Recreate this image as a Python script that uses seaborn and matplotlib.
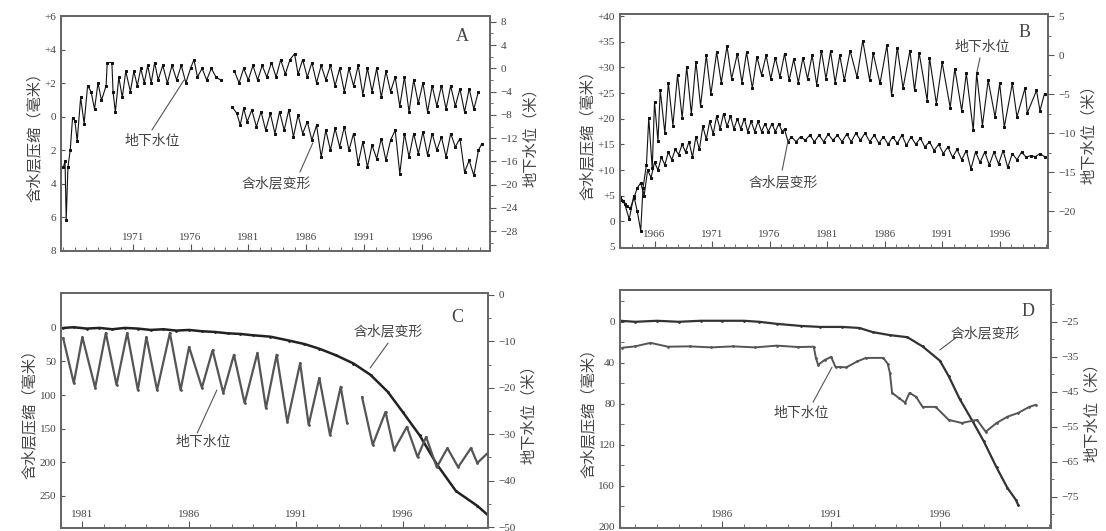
import matplotlib
matplotlib.use("Agg")
import matplotlib.pyplot as plt
import seaborn as sns
from matplotlib.ticker import FixedLocator, MultipleLocator

# ---------------- data ----------------
# Panel A: groundwater level (m, right axis), two segments
a_gw_years_1 = [1965.0, 1965.15, 1965.25, 1965.4, 1965.6, 1965.8, 1966.0, 1966.2,
                1966.5, 1966.8, 1967.1, 1967.4, 1967.7, 1968.0, 1968.3, 1968.7,
                1968.8, 1969.2, 1969.3, 1969.5, 1969.8, 1970.1, 1970.4, 1970.8,
                1971.1, 1971.4, 1971.7, 1972.0, 1972.3, 1972.6, 1972.9, 1973.2,
                1973.6, 1974.0, 1974.4, 1974.8, 1975.2, 1975.6, 1976.0, 1976.3,
                1976.6, 1977.0, 1977.4, 1977.8, 1978.2, 1978.6]
a_gw_vals_1 = [-17, -16, -26, -17, -14, -8.5, -9, -12.5,
               -5, -9.5, -3, -4, -7, -2.5, -5.5, -3,
               1, 1, -4, -7.5, -1.5, -5, -0.5, -4,
               -0.5, -3, 0, -2.5, 0.5, -2.5, 1, -2,
               0.5, -2.5, 0.5, -2, 0.5, -2.5, 0, 1.5,
               -1.5, 0, -2, 0, -1.5, -2]
a_gw_years_2 = [1979.8, 1980.2, 1980.6, 1981.0, 1981.4, 1981.8, 1982.2, 1982.6,
                1983.0, 1983.4, 1983.8, 1984.2, 1984.6, 1985.0, 1985.3, 1985.7,
                1986.1, 1986.5, 1986.9, 1987.3, 1987.7, 1988.1, 1988.5, 1988.9,
                1989.3, 1989.7, 1990.1, 1990.5, 1990.9, 1991.3, 1991.7, 1992.1,
                1992.5, 1992.9, 1993.3, 1993.7, 1994.1, 1994.5, 1994.9, 1995.3,
                1995.7, 1996.1, 1996.5, 1996.9, 1997.3, 1997.7, 1998.1, 1998.5,
                1998.9, 1999.3, 1999.7, 2000.1, 2000.5, 2000.9]
a_gw_vals_2 = [-0.5, -2.5, 0, -2, 0.5, -2, 0.5, -1.5,
               1, -1.5, 1.5, -1, 1.5, 2.5, -1, 1.5,
               -1.5, 1, -2.5, 0.5, -2, 0.5, -3, 0,
               -4, 0, -3, 0.5, -4.5, 0, -4, 0,
               -5, -0.5, -4, -1.5, -6.5, -1.5, -7.5, -2,
               -6, -2.5, -7.5, -3, -6.5, -3, -7, -3,
               -6.5, -3.5, -7.5, -3.5, -7, -4]
# Panel A: aquifer deformation (mm, left axis)
a_def_years = [1979.6, 1980.0, 1980.3, 1980.6, 1980.9, 1981.3, 1981.7, 1982.1,
               1982.5, 1982.9, 1983.3, 1983.7, 1984.1, 1984.5, 1984.9, 1985.3,
               1985.7, 1986.1, 1986.5, 1986.9, 1987.3, 1987.7, 1988.1, 1988.5,
               1988.9, 1989.3, 1989.7, 1990.1, 1990.5, 1990.9, 1991.3, 1991.7,
               1992.1, 1992.5, 1992.9, 1993.3, 1993.7, 1994.1, 1994.5, 1994.9,
               1995.3, 1995.7, 1996.1, 1996.5, 1996.9, 1997.3, 1997.7, 1998.1,
               1998.5, 1998.9, 1999.3, 1999.7, 2000.1, 2000.5, 2000.9, 2001.2]
a_def_vals = [0.6, 0.2, -0.5, 0.5, -0.3, 0.4, -0.6, 0.3,
              -0.8, 0.2, -1.0, 0.3, -0.8, 0.4, -1.2, 0.1,
              -1.0, -0.3, -1.4, -0.5, -2.4, -0.8, -2.0, -0.7,
              -1.8, -0.6, -2.0, -1.0, -2.8, -1.5, -3.0, -1.7,
              -2.5, -1.3, -2.6, -1.4, -0.8, -3.4, -1.0, -2.4,
              -1.0, -2.2, -0.9, -2.3, -1.0, -2.0, -1.2, -2.4,
              -1.0, -1.8, -1.3, -3.3, -2.6, -3.5, -2.0, -1.6]

# Panel B: groundwater level (m, right axis)
b_gw_years = [1963.0, 1963.4, 1963.8, 1964.2, 1964.5, 1964.8, 1965.0, 1965.3,
              1965.5, 1965.8, 1966.0, 1966.3, 1966.5, 1966.9, 1967.2, 1967.6,
              1968.0, 1968.4, 1968.8, 1969.2, 1969.6, 1970.0, 1970.5, 1970.9,
              1971.4, 1971.8, 1972.3, 1972.7, 1973.2, 1973.6, 1974.0, 1974.5,
              1974.9, 1975.3, 1975.7, 1976.1, 1976.5, 1976.9, 1977.3, 1977.7,
              1978.1, 1978.5, 1978.9, 1979.3, 1979.7, 1980.1, 1980.5, 1980.9,
              1981.3, 1981.7, 1982.1, 1982.5, 1983.0, 1983.6, 1984.1, 1984.7,
              1985.0, 1985.6, 1986.2, 1986.6, 1987.1, 1987.6, 1988.2, 1988.6,
              1989.0, 1989.7, 1989.9, 1990.5, 1991.0, 1991.7, 1992.1, 1992.7,
              1993.1, 1993.7, 1994.0, 1994.5, 1995.0, 1995.6, 1996.0, 1996.4,
              1997.1, 1997.5, 1998.2, 1998.4, 1999.2, 1999.5, 1999.9]
b_gw_vals = [-18.5, -19, -21, -18, -20, -22.5, -17, -14,
             -8, -14.5, -6, -11, -4.5, -10, -3.5, -9,
             -2.5, -8, -1.5, -7.5, -0.8, -6.5, 0, -5,
             0.4, -3.5, 1.2, -3.0, 0.2, -3.5, 0.4, -4.2,
             -0.2, -2.5, 0, -3, -0.3, -2.8, 0.2, -3.2,
             -0.5, -3.5, -0.3, -3, 0, -3.8, 0.6, -3,
             0.5, -3.5, 0, -3.2, 0.6, -2.8, 1.9, -3.2,
             0.3, -3.6, 1.3, -5.1, 1.0, -4.2, 0.6, -4.5,
             0.3, -5.8, -0.3, -6.2, -0.9, -6.7, -1.7, -7.1,
             -2.3, -9.6, -2.3, -9.0, -3.2, -7.9, -3.6, -9.2,
             -3.6, -7.9, -4.2, -7.4, -4.5, -7.1, -4.9]
# Panel B: aquifer deformation (mm, left axis)
b_def_years = [1963.0, 1963.3, 1963.6, 1963.9, 1964.2, 1964.5, 1964.8, 1965.1,
               1965.4, 1965.7, 1966.0, 1966.3, 1966.6, 1966.9, 1967.2, 1967.5,
               1967.8, 1968.1, 1968.4, 1968.7, 1969.0, 1969.3, 1969.6, 1969.9,
               1970.2, 1970.5, 1970.8, 1971.1, 1971.4, 1971.7, 1972.0, 1972.3,
               1972.6, 1972.9, 1973.2, 1973.5, 1973.8, 1974.1, 1974.4, 1974.7,
               1975.0, 1975.3, 1975.6, 1975.9, 1976.2, 1976.5, 1976.8, 1977.1,
               1977.3, 1977.6, 1977.9, 1978.3, 1978.7, 1979.1, 1979.5, 1979.9,
               1980.3, 1980.7, 1981.1, 1981.5, 1981.9, 1982.3, 1982.7, 1983.1,
               1983.5, 1983.9, 1984.3, 1984.7, 1985.1, 1985.5, 1985.9, 1986.3,
               1986.7, 1987.1, 1987.5, 1987.9, 1988.3, 1988.7, 1989.1, 1989.5,
               1989.9, 1990.3, 1990.7, 1991.1, 1991.5, 1991.9, 1992.3, 1992.7,
               1993.1, 1993.5, 1993.9, 1994.3, 1994.7, 1995.1, 1995.5, 1995.9,
               1996.3, 1996.7, 1997.1, 1997.5, 1997.9, 1998.3, 1998.7, 1999.1,
               1999.5, 1999.9]
b_def_vals = [4.7, 4.0, 3.0, 2.5, 4.5, 6.5, 7.5, 5.0,
              10, 8.5, 11.5, 10, 12.5, 11, 13.5, 12,
              14, 13, 15, 13.5, 15.5, 12.5, 16.5, 14,
              18.5, 16, 19.5, 17, 20.5, 18, 21, 18.5,
              20.5, 18, 20, 18, 20, 17.5, 19.5, 17.5,
              19.5, 17.5, 19, 17.5, 19, 17.5, 19, 17.5,
              18, 15.5, 16.5, 15.5, 16.5, 15.8, 16.8, 15.5,
              16.8, 15.5, 17, 15.8, 16.8, 15.5, 17, 15.5,
              17.2, 15.8, 17.2, 15.5, 16.8, 15.2, 16.5, 15,
              16.5, 15.2, 16.8, 14.8, 16.5, 15, 16.2, 14.5,
              15.5, 13.8, 15, 13.2, 14.5, 12.5, 14, 12,
              13.8, 10.2, 13.5, 11.5, 13.5, 11, 13.5, 11.2,
              13.8, 10.5, 13.2, 12, 13.5, 12.5, 12.8, 12.6,
              13.2, 12.6]

# Panel C: aquifer compression (mm, left axis, downward)
c_def_years = [1980.1, 1980.6, 1981.2, 1981.8, 1982.4, 1983.0, 1983.6, 1984.2,
               1984.8, 1985.4, 1986.0, 1986.6, 1987.2, 1987.8, 1988.4, 1989.0,
               1989.8, 1990.7, 1991.4, 1992.1, 1992.9, 1993.7, 1994.5, 1995.3,
               1996.0, 1996.8, 1997.6, 1998.5, 1999.5, 2000.0]
c_def_vals = [0, -1, 1, 0, 2, 0, 1, 3,
              2, 4, 3, 5, 6, 8, 9, 11,
              13, 19, 24, 31, 41, 53, 70, 95,
              125, 160, 203, 243, 265, 279]
# Panel C: groundwater level (m, right axis), two segments
c_gw_years_1 = [1980.1, 1980.6, 1981.0, 1981.6, 1982.1, 1982.6, 1983.1, 1983.6,
                1984.0, 1984.5, 1985.1, 1985.6, 1986.0, 1986.6, 1987.1, 1987.6,
                1988.1, 1988.6, 1989.2, 1989.6, 1990.1, 1990.6, 1991.2, 1991.6,
                1992.1, 1992.6, 1993.1, 1993.4]
c_gw_vals_1 = [-9.3, -19.0, -9.1, -20.0, -8.2, -19.4, -8.2, -20.5,
               -9.1, -20.5, -8.2, -20.5, -11.2, -20.0, -11.9, -21.1,
               -12.9, -23.3, -12.5, -24.4, -12.9, -27.4, -14.7, -28.0,
               -17.9, -30.2, -19.8, -27.6]
c_gw_years_2 = [1994.1, 1994.6, 1995.2, 1995.6, 1996.2, 1996.7, 1997.1, 1997.6,
                1998.1, 1998.6, 1999.2, 1999.5, 2000.0]
c_gw_vals_2 = [-22.0, -32.3, -25.2, -33.4, -28.4, -34.9, -30.6, -37.1,
               -33.0, -37.1, -33.0, -36.2, -34.0]

# Panel D: aquifer compression (mm, left axis, downward)
d_def_years = [1981.3, 1982.0, 1983.0, 1984.0, 1985.0, 1986.0, 1987.0, 1987.7,
               1988.5, 1989.6, 1990.5, 1991.5, 1992.3, 1992.9, 1993.7, 1994.5,
               1995.2, 1996.0, 1996.4, 1996.9, 1997.5, 1998.0, 1998.6, 1999.1,
               1999.5, 1999.6]
d_def_vals = [-1, 0, -1, 0, -1, -1, -1, 0,
              2, 4, 5, 5, 6, 10, 13, 15,
              24, 38, 53, 75, 97, 116, 142, 162,
              174, 179]
# Panel D: groundwater level (m, right axis)
d_gw_years = [1981.4, 1982.0, 1982.7, 1983.5, 1984.5, 1985.5, 1986.5, 1987.5,
              1988.5, 1989.5, 1990.2, 1990.3, 1990.4, 1990.7, 1991.0, 1991.2,
              1991.4, 1991.7, 1992.2, 1992.6, 1993.4, 1993.6, 1993.7, 1993.8,
              1994.1, 1994.4, 1994.6, 1994.9, 1995.2, 1995.8, 1996.4, 1997.0,
              1997.7, 1998.1, 1998.6, 1999.1, 1999.6, 2000.1, 2000.4]
d_gw_vals = [-32.4, -32.0, -31.0, -32.1, -32.0, -32.3, -32.0, -32.3,
             -31.8, -32.2, -32.1, -35.3, -37.3, -35.9, -35.0, -37.9,
             -37.9, -38.0, -36.3, -35.3, -35.3, -37.0, -39.6, -45.3,
             -46.7, -48.1, -45.3, -46.4, -49.3, -49.3, -53.0, -53.9,
             -53.0, -56.4, -53.9, -52.1, -51.0, -49.3, -48.7]

left_label = "含水层压缩（毫米）"
right_label = "地下水位（米）"
gw_name = "地下水位"
def_name = "含水层变形"

# ---------------- style ----------------
sns.set_style("ticks")
plt.rcParams["font.family"] = ["Liberation Serif", "Noto Sans CJK SC"]
plt.rcParams["axes.edgecolor"] = "#666666"
plt.rcParams["axes.linewidth"] = 1.3
TXT = "#444444"

fig = plt.figure(figsize=(11.06, 5.31), dpi=100)
W, H = 1106, 531


def make_axes(x0, x1, ytop, ybot):
    ax = fig.add_axes([x0 / W, 1 - ybot / H, (x1 - x0) / W, (ybot - ytop) / H])
    return ax, ax.twinx()


def setup(ax, ax2, xlim, majors, lticks, llabels, llim, rticks, rlim, rminor, lminor=None):
    ax.set_xlim(*xlim)
    ax.xaxis.set_major_locator(FixedLocator(majors))
    ax.xaxis.set_minor_locator(MultipleLocator(1))
    ax.set_xticklabels([str(y) for y in majors])
    ax.tick_params(axis="x", which="both", direction="in", pad=-13, labelsize=8,
                   length=3, colors="#555555", labelcolor=TXT)
    ax.tick_params(axis="x", which="major", length=5)
    ax.set_ylim(*llim)
    ax.yaxis.set_major_locator(FixedLocator(lticks))
    ax.set_yticklabels(llabels)
    if lminor:
        ax.yaxis.set_minor_locator(MultipleLocator(lminor))
    ax.tick_params(axis="y", which="both", direction="in", labelsize=8, length=3,
                   colors="#555555", labelcolor=TXT)
    ax2.set_ylim(*rlim)
    ax2.yaxis.set_major_locator(FixedLocator(rticks))
    ax2.yaxis.set_minor_locator(MultipleLocator(rminor))
    ax2.tick_params(axis="y", which="both", direction="out", labelsize=8, length=4,
                    colors="#555555", labelcolor=TXT)
    ax2.tick_params(axis="y", which="minor", length=2.5)
    ax.set_ylabel(left_label, fontsize=11, color=TXT, labelpad=2)
    ax2.set_ylabel(right_label, fontsize=11, color=TXT, rotation=90, labelpad=4)
    for a in (ax, ax2):
        a.set_xlabel("")
        for s in a.spines.values():
            s.set_color("#666666")


def note(ax, text, txy, p0, p1, size=10):
    ax.plot([p0[0], p1[0]], [p0[1], p1[1]], transform=ax.transAxes, color="#555555", lw=0.8)
    ax.text(txy[0], txy[1], text, transform=ax.transAxes, ha="center", va="center",
            fontsize=size, color=TXT)


def series(ax, xs, ys, color="#111111", lw=0.8, marker="s", ms=1.8):
    sns.lineplot(x=xs, y=ys, ax=ax, color=color, linewidth=lw, marker=marker,
                 markersize=ms, markeredgecolor=color, estimator=None, sort=False)


# ---------------- Panel A ----------------
axA, axA2 = make_axes(61, 490, 16, 251)
series(axA, a_def_years, a_def_vals)
series(axA2, a_gw_years_1, a_gw_vals_1)
series(axA2, a_gw_years_2, a_gw_vals_2)
setup(axA, axA2, (1964.8, 2001.9), [1971, 1976, 1981, 1986, 1991, 1996],
      [6, 4, 2, 0, -2, -4, -6, -8], ["+6", "+4", "+2", "0", "2", "4", "6", "8"], (-8, 6),
      [8, 4, 0, -4, -8, -12, -16, -20, -24, -28], (-31.4, 9.0), 2)
note(axA, gw_name, (0.212, 0.464), (0.212, 0.515), (0.287, 0.728))
note(axA, def_name, (0.501, 0.289), (0.557, 0.336), (0.587, 0.46))
axA.text(0.935, 0.911, "A", transform=axA.transAxes, fontsize=13, color=TXT, ha="center", va="center")

# ---------------- Panel B ----------------
axB, axB2 = make_axes(620, 1048, 14, 248)
series(axB, b_def_years, b_def_vals)
series(axB2, b_gw_years, b_gw_vals)
setup(axB, axB2, (1963.0, 2000.2), [1966, 1971, 1976, 1981, 1986, 1991, 1996],
      [40, 35, 30, 25, 20, 15, 10, 5, 0, -5],
      ["+40", "+35", "+30", "+25", "+20", "+15", "+10", "+5", "0", "5"], (-5.2, 40.4),
      [5, 0, -5, -10, -15, -20], (-24.7, 5.3), 2.5)
note(axB, gw_name, (0.846, 0.855), (0.841, 0.812), (0.834, 0.752))
note(axB, def_name, (0.381, 0.278), (0.379, 0.333), (0.393, 0.462))
axB.text(0.946, 0.919, "B", transform=axB.transAxes, fontsize=13, color=TXT, ha="center", va="center")

# ---------------- Panel C ----------------
axC, axC2 = make_axes(61, 488, 293, 528)
series(axC, c_def_years, c_def_vals, color="#222222", lw=1.8, marker="o", ms=1.2)
series(axC2, c_gw_years_1, c_gw_vals_1, color="#555555", lw=1.6, marker="o", ms=1.2)
series(axC2, c_gw_years_2, c_gw_vals_2, color="#555555", lw=1.6, marker="o", ms=1.2)
setup(axC, axC2, (1980.0, 2000.0), [1981, 1986, 1991, 1996],
      [0, 50, 100, 150, 200, 250], ["0", "50", "100", "150", "200", "250"], (298, -52),
      [0, -10, -20, -30, -40, -50], (-50.2, 0.4), 5)
note(axC, def_name, (0.766, 0.834), (0.766, 0.787), (0.724, 0.681))
note(axC, gw_name, (0.333, 0.362), (0.319, 0.404), (0.365, 0.587))
axC.text(0.927, 0.894, "C", transform=axC.transAxes, fontsize=13, color=TXT, ha="center", va="center")

# ---------------- Panel D ----------------
axD, axD2 = make_axes(620, 1051, 290, 528)
series(axD, d_def_years, d_def_vals, color="#333333", lw=1.6, marker="o", ms=1.2)
series(axD2, d_gw_years, d_gw_vals, color="#555555", lw=1.4, marker="o", ms=1.2)
setup(axD, axD2, (1981.3, 2001.1), [1986, 1991, 1996],
      [0, 40, 80, 120, 160, 200], ["0", "40", "80", "120", "160", "200"], (201, -31),
      [-25, -35, -45, -55, -65, -75], (-83.9, -15.9), 5, lminor=20)
note(axD, def_name, (0.847, 0.819), (0.782, 0.803), (0.742, 0.748))
note(axD, gw_name, (0.42, 0.483), (0.448, 0.529), (0.492, 0.676))
axD.text(0.947, 0.908, "D", transform=axD.transAxes, fontsize=13, color=TXT, ha="center", va="center")

fig.savefig("out.png", dpi=100)
